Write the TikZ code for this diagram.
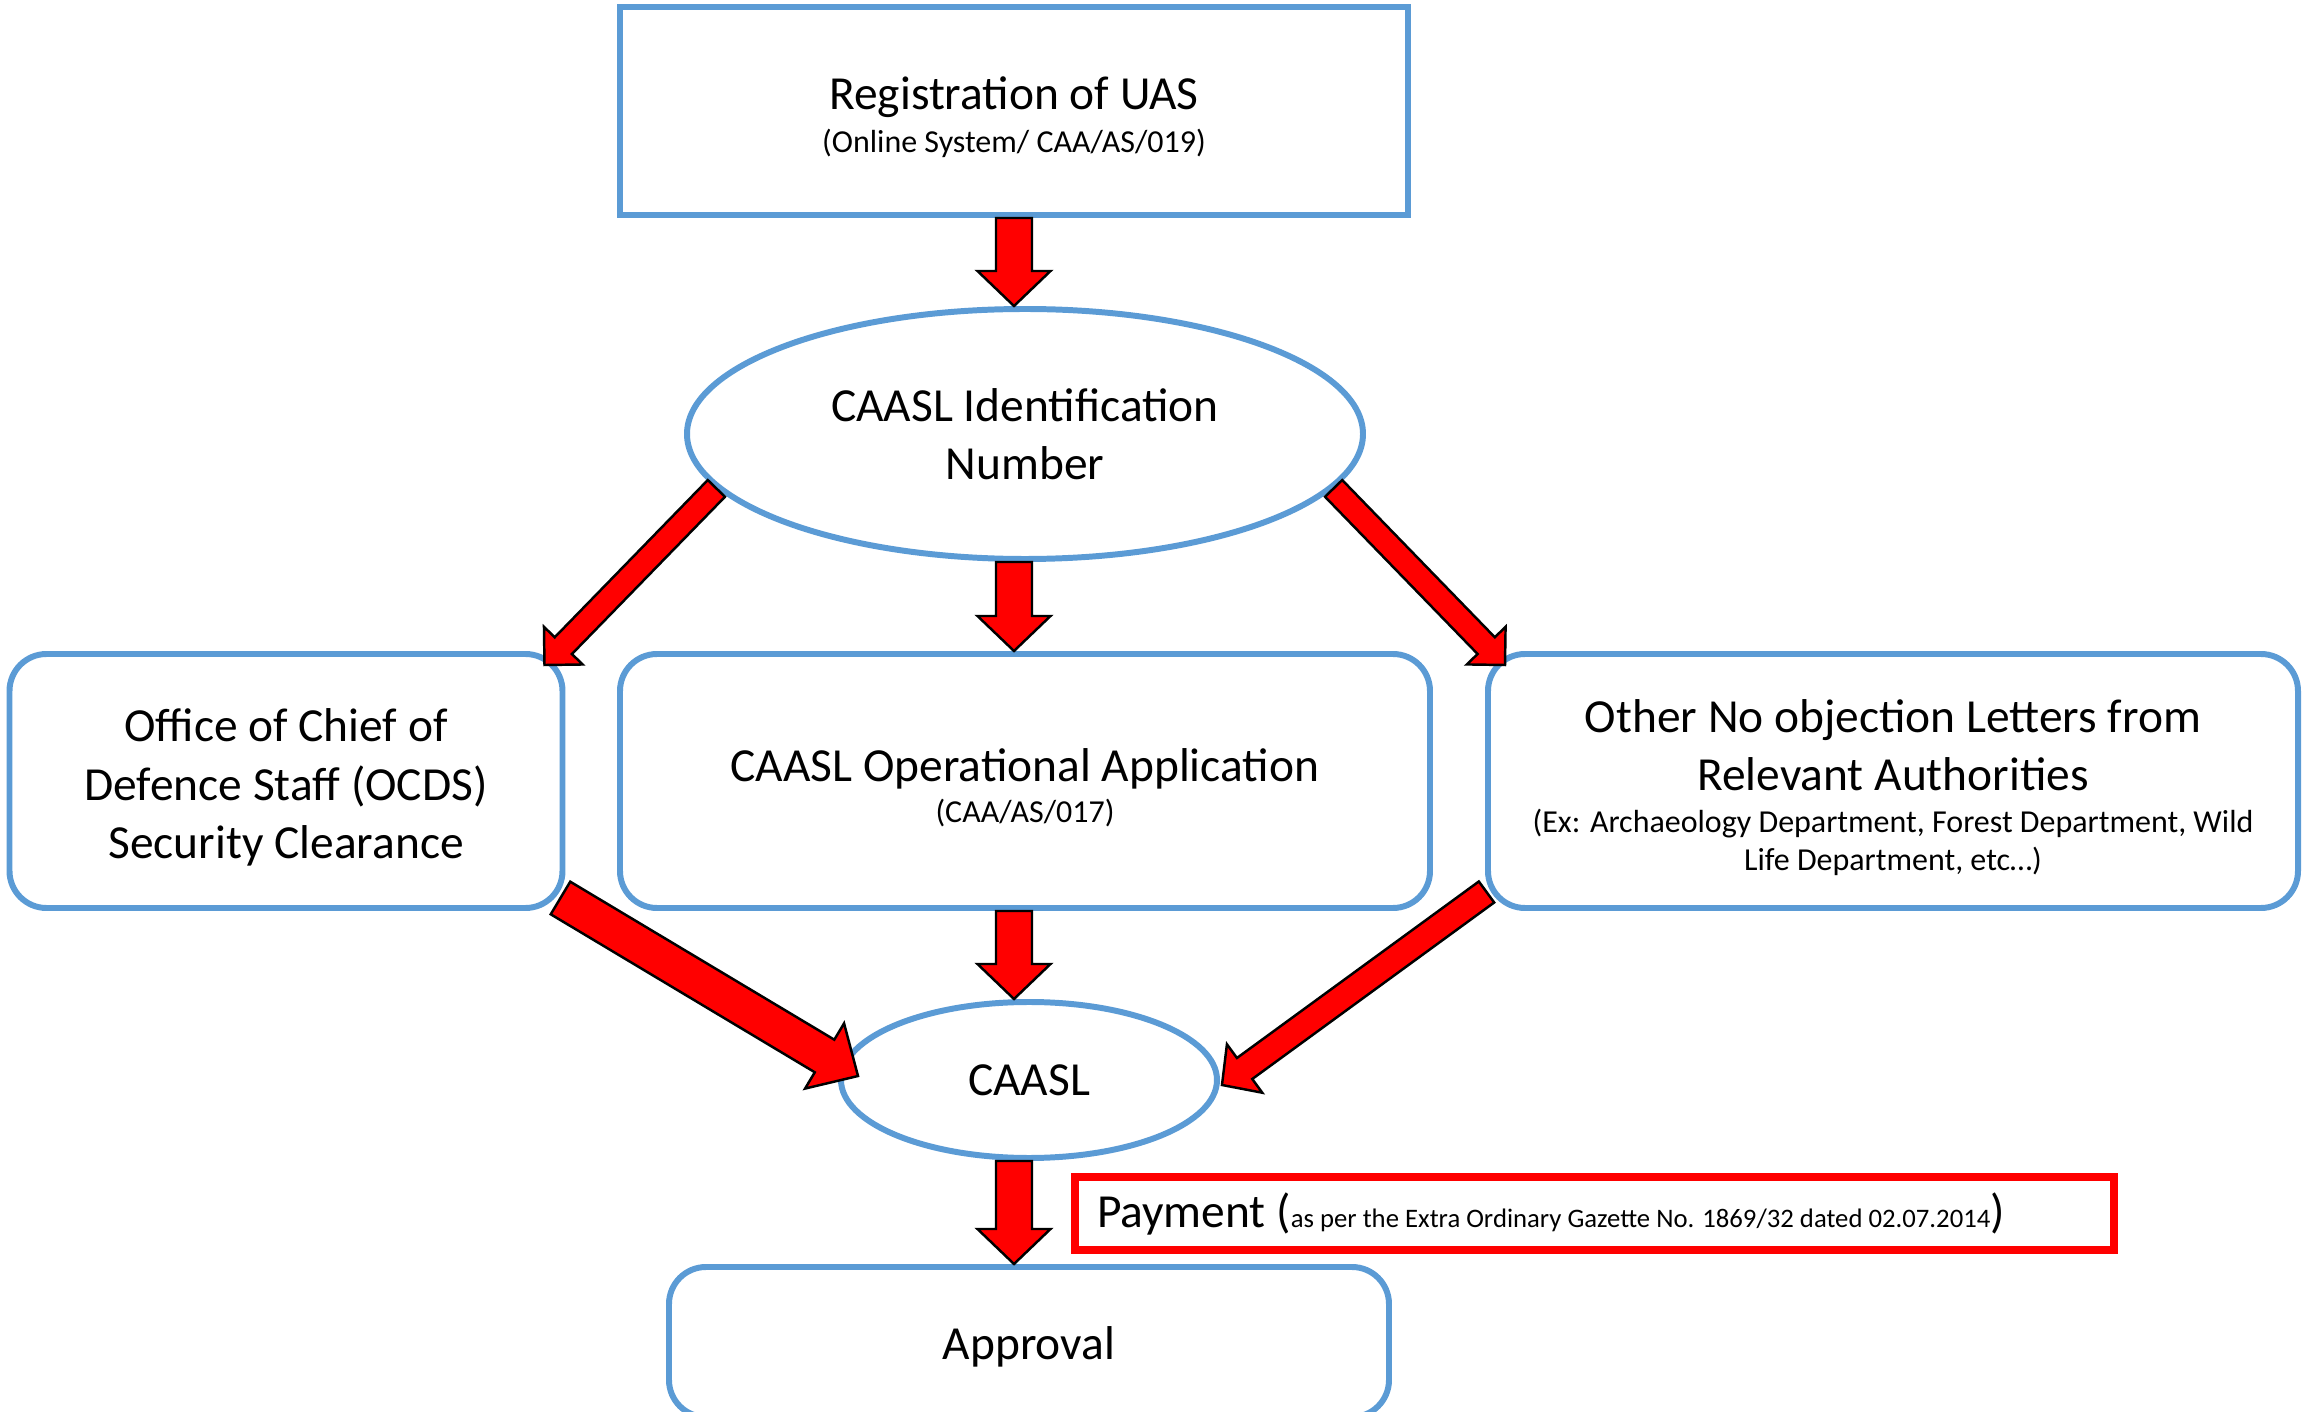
\documentclass[tikz,border=0pt]{standalone}
\usepackage{fontspec}
\setmainfont{Carlito}
\usetikzlibrary{shapes.geometric, calc}
\definecolor{boxblue}{RGB}{91,155,213}
\newcommand{\bigtxt}{\fontsize{13.5}{16.6}\selectfont}
\newcommand{\smalltxt}{\fontsize{9.1}{10.9}\selectfont}
\newcommand{\tinytxt}{\fontsize{7.6}{9.1}\selectfont}
\tikzset{
  bluebox/.style={draw=boxblue, line width=1.7pt, align=center, font=\bigtxt},
  roundbox/.style={bluebox, rounded corners=0.37cm},
  blueoval/.style={bluebox, ellipse, inner sep=0pt},
  paybox/.style={draw=red, line width=2pt, font=\bigtxt, inner xsep=0.22cm},
  fatarrow/.style={draw=black, fill=red, line width=0.7pt, line join=miter}
}
% start, tip, half shaft, half head, head length
\newcommand{\redarrow}[5]{
  \path (#1) coordinate (ra-s) (#2) coordinate (ra-t);
  \path ($(ra-t)!#5!(ra-s)$) coordinate (ra-b);
  \draw[fatarrow] ($(ra-s)!#3!90:(ra-t)$) -- ($(ra-b)!#3!90:(ra-t)$) -- ($(ra-b)!#4!90:(ra-t)$) -- (ra-t)
    -- ($(ra-b)!#4!-90:(ra-t)$) -- ($(ra-b)!#3!-90:(ra-t)$) -- ($(ra-s)!#3!-90:(ra-t)$) -- cycle;
}

\begin{document}
\begin{tikzpicture}
    \useasboundingbox (0,0) rectangle (23.05,-14.12);
    \clip (0,0) rectangle (23.05,-14.12);

    \node[bluebox, minimum width=7.88cm, minimum height=2.08cm] (reg) at (10.14,-1.11)
        {\rule{0pt}{0.46cm}Registration of UAS\\[-4.4pt]{\smalltxt (Online System/ CAA/AS/019)}};
    \node[blueoval, minimum width=6.76cm, minimum height=2.50cm] (idn) at (10.25,-4.34)
        {CAASL Identification\\Number};
    \node[roundbox, minimum width=5.53cm, minimum height=2.54cm] (ocds) at (2.86,-7.81)
        {\rule{0pt}{0.46cm}Office of Chief of\\Defence Staff (OCDS)\\Security Clearance};
    \node[roundbox, minimum width=8.10cm, minimum height=2.54cm] (app) at (10.25,-7.81)
        {\rule{0pt}{0.46cm}CAASL Operational Application\\[-4.8pt]{\smalltxt (CAA/AS/017)}};
    \node[roundbox, minimum width=8.10cm, minimum height=2.54cm] (nol) at (18.93,-7.81)
        {\rule{0pt}{0.46cm}Other No objection Letters from\\Relevant Authorities\\[-4.8pt]{\smalltxt (Ex: Archaeology Department, Forest Department, Wild}\\[-5.7pt]{\smalltxt Life Department, etc…)}};
    \node[blueoval, minimum width=3.76cm, minimum height=1.56cm] (caasl) at (10.29,-10.80) {CAASL};
    \node[paybox, minimum height=0.73cm] (pay) at (15.945,-12.135)
        {\makebox[9.95cm][l]{Payment ({\tinytxt as per the Extra Ordinary Gazette No. 1869/32 dated 02.07.2014})}};
    \node[roundbox, minimum width=7.20cm, minimum height=1.50cm] (appr) at (10.29,-13.42)
        {\rule{0pt}{0.42cm}Approval};

    \redarrow{reg.south}{reg.south |- idn.north}{0.18cm}{0.365cm}{0.35cm}
    \redarrow{idn.190}{$(ocds.north east)+(-0.21,-0.14)$}{0.12cm}{0.27cm}{0.27cm}
    \redarrow{reg.south |- idn.south}{reg.south |- app.north}{0.18cm}{0.365cm}{0.35cm}
    \redarrow{idn.-10}{$(nol.north west)+(0.20,-0.14)$}{0.12cm}{0.27cm}{0.27cm}
    \redarrow{$(ocds.south east)+(-0.05,0.13)$}{$(caasl.west)+(0.2,0.04)$}{0.19cm}{0.38cm}{0.39cm}
    \redarrow{reg.south |- app.south}{reg.south |- caasl.north}{0.18cm}{0.365cm}{0.35cm}
    \redarrow{$(nol.south west)+(0.015,0.19)$}{$(caasl.east)+(0.02,-0.05)$}{0.13cm}{0.30cm}{0.28cm}
    \redarrow{reg.south |- caasl.south}{reg.south |- appr.north}{0.18cm}{0.365cm}{0.35cm}
\end{tikzpicture}
\end{document}
